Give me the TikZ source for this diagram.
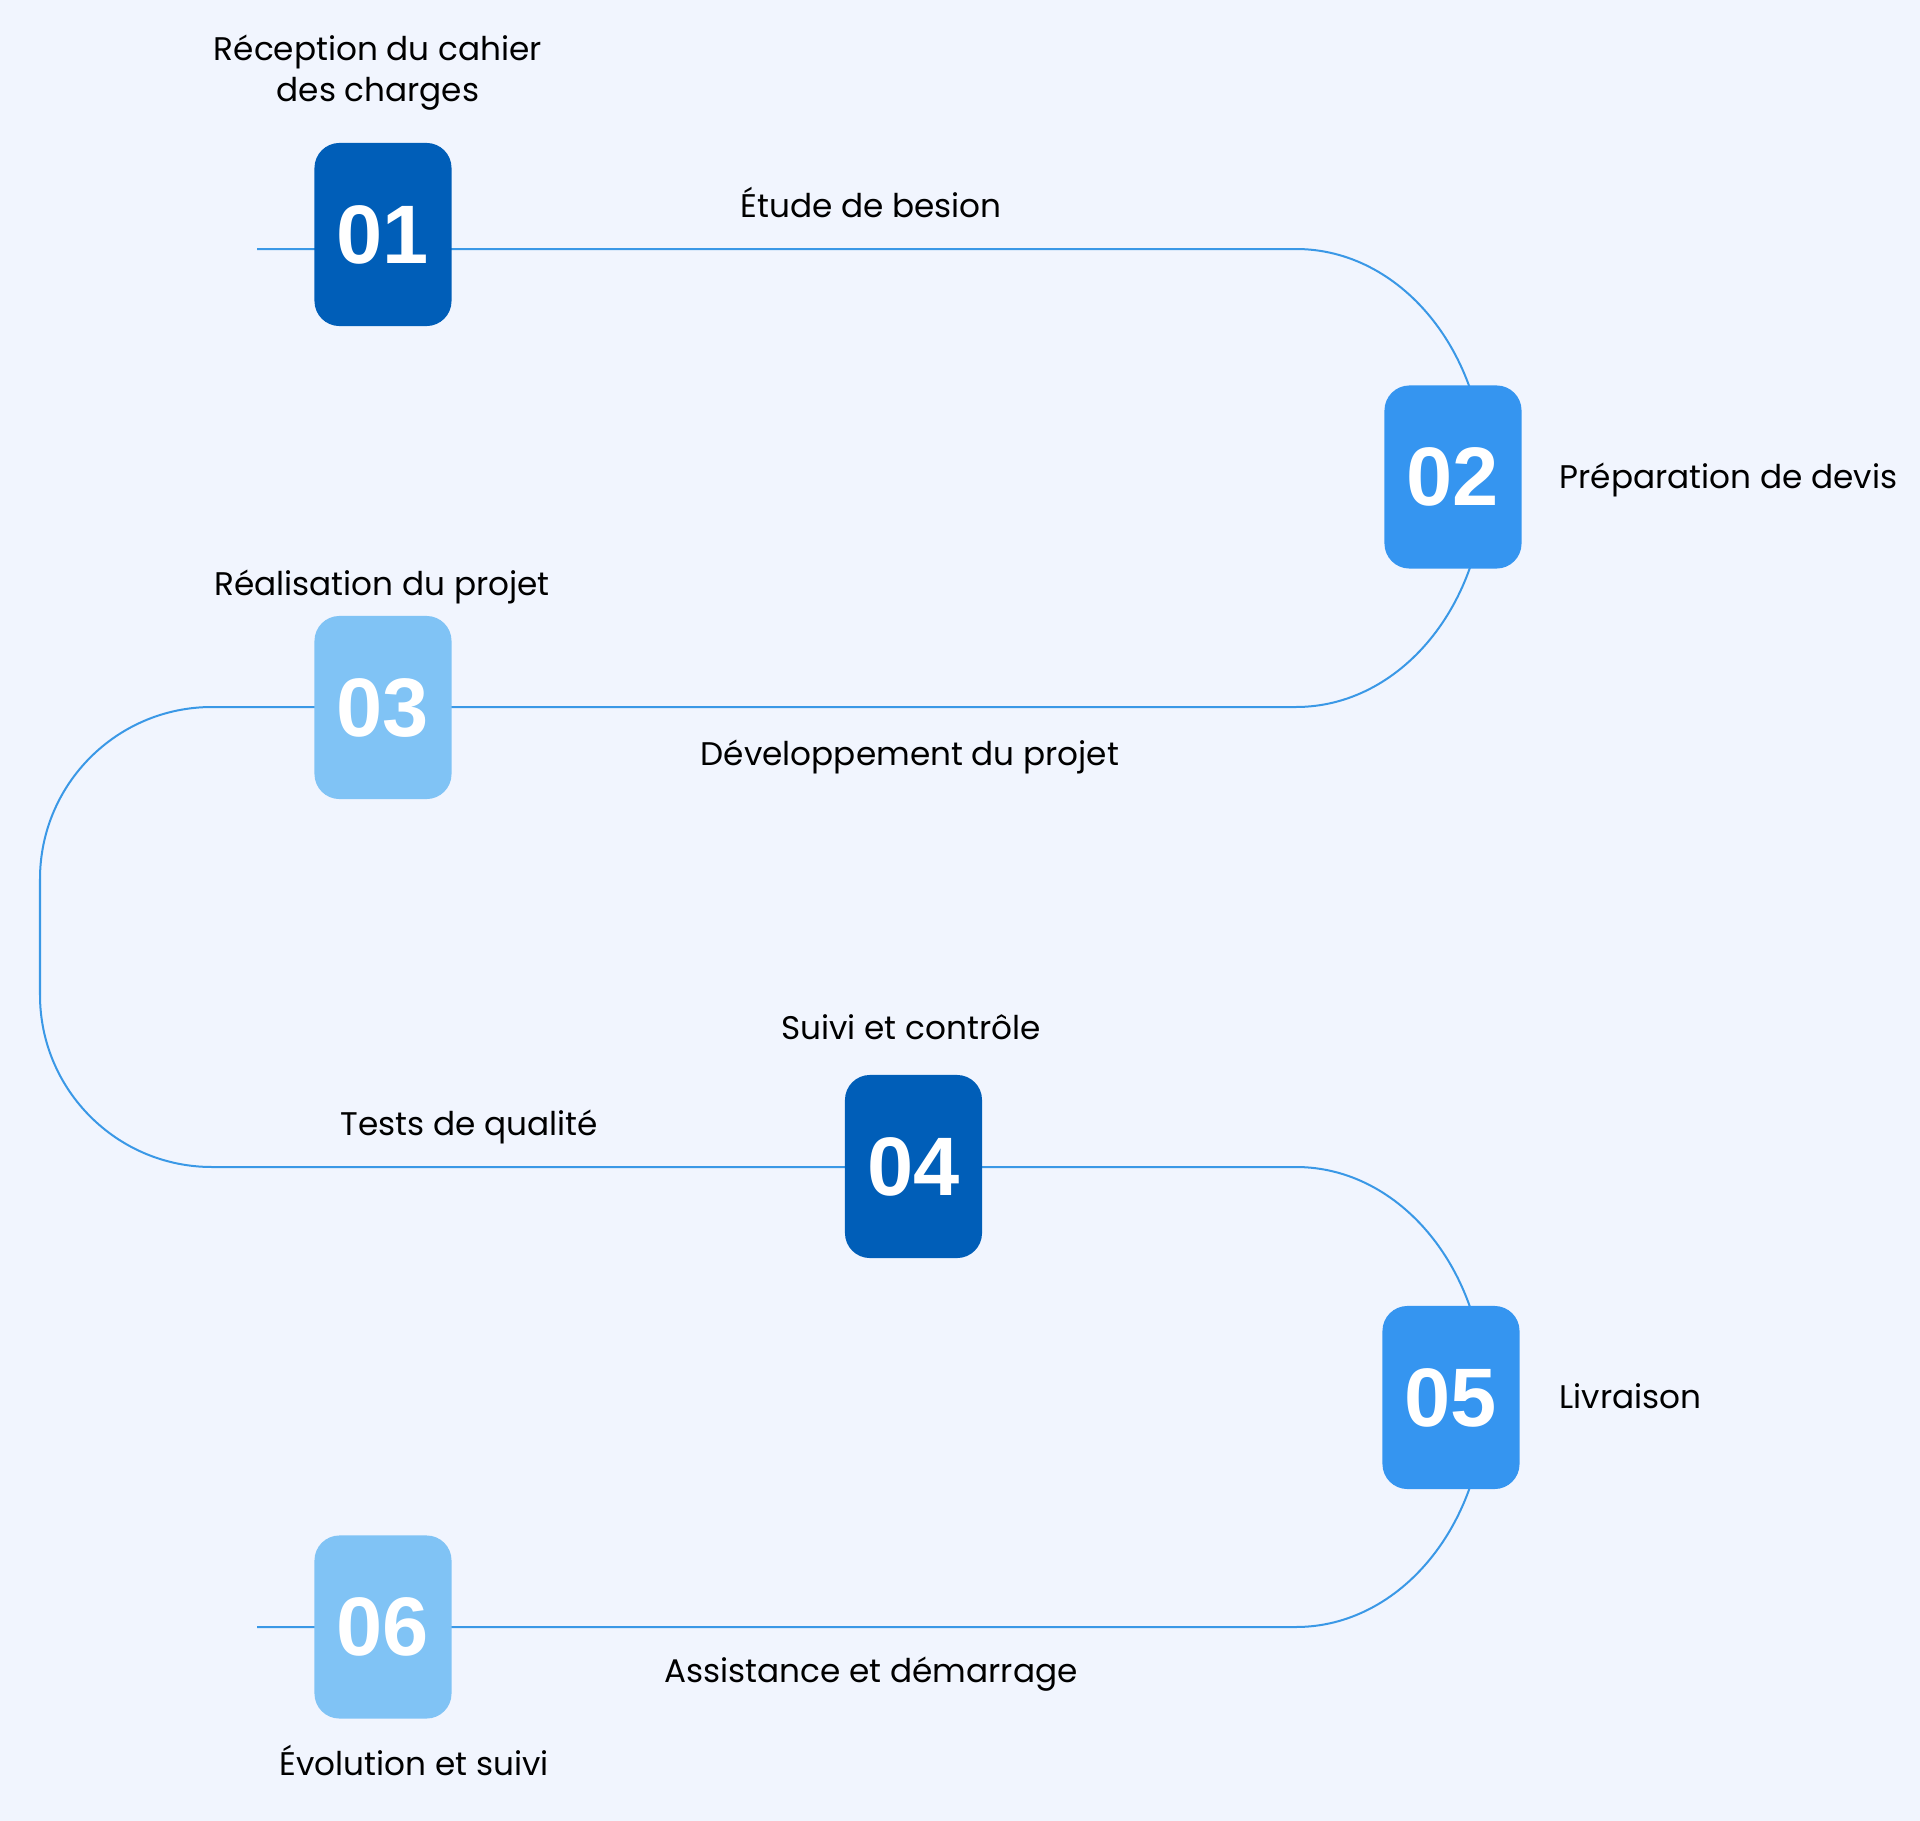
\documentclass[tikz,border=0pt]{standalone}
\usepackage{fontspec}
\setmainfont{Poppins}
\newfontfamily\numfont{Liberation Sans}
\usepackage{tikz}
\usetikzlibrary{positioning}
\definecolor{bgpale}{RGB}{241, 245, 254}
\definecolor{stepdark}{RGB}{0, 94, 184}
\definecolor{stepmid}{RGB}{53, 149, 240}
\definecolor{steplight}{RGB}{128, 195, 245}
\definecolor{snakeblue}{RGB}{58, 152, 230}

\begin{document}
\begin{tikzpicture}[
  x=0.01cm, y=-0.01cm,
  every node/.style={font=\fontsize{9.3}{11.8}\selectfont},
  stepbox/.style={rounded corners=0.25cm, minimum width=1.37cm, minimum height=1.83cm, inner sep=0pt, text=white, font=\numfont\bfseries\fontsize{23.6}{28}\selectfont},
  darkstep/.style={stepbox, fill=stepdark},
  midstep/.style={stepbox, fill=stepmid},
  lightstep/.style={stepbox, fill=steplight},
  lbl/.style={align=center, inner sep=0pt, text=black},
  snake/.style={draw=snakeblue, line width=0.02cm}
]

  \fill[bgpale] (0,0) rectangle (1920,1821);

  % Chemin
  \coordinate (start) at (257,249);
  \coordinate (finish) at (257,1627);
  \draw[snake] (start) -- (1296,249) arc[start angle=-90, end angle=90, x radius=189, y radius=229]
    -- (212,707) arc[start angle=-90, end angle=-180, radius=172]
    -- (40,995) arc[start angle=180, end angle=90, radius=172]
    -- (1296,1167) arc[start angle=-90, end angle=90, x radius=189, y radius=230]
    -- (finish);

  % Etapes
  \node[darkstep] (s01) at (383,234.5) {01};
  \node[midstep] (s02) at (1453,477) {02};
  \node[lightstep] (s03) at (383,707.5) {03};
  \node[darkstep] (s04) at (913.5,1166.5) {04};
  \node[midstep] (s05) at (1451,1397.5) {05};
  \node[lightstep] (s06) at (383,1627) {06};

  % Textes
  \node[lbl] (t01) at (378,72.5) {Réception du cahier\\des charges};
  \node[lbl] (t12) at (871,202.5) {Étude de besion};
  \node[lbl, anchor=west] (t02) at (1559,479.5) {Préparation de devis};
  \node[lbl] (t03) at (382,586.5) {Réalisation du projet};
  \node[lbl] (t23) at (910,756.5) {Développement du projet};
  \node[lbl] (t04) at (911,1027) {Suivi et contrôle};
  \node[lbl] (t34) at (469,1126.5) {Tests de qualité};
  \node[lbl, anchor=west] (t05) at (1559,1396) {Livraison};
  \node[lbl] (t56) at (871,1674.5) {Assistance et démarrage};
  \node[lbl] (t06) at (414,1760.5) {Évolution et suivi};

\end{tikzpicture}
\end{document}
